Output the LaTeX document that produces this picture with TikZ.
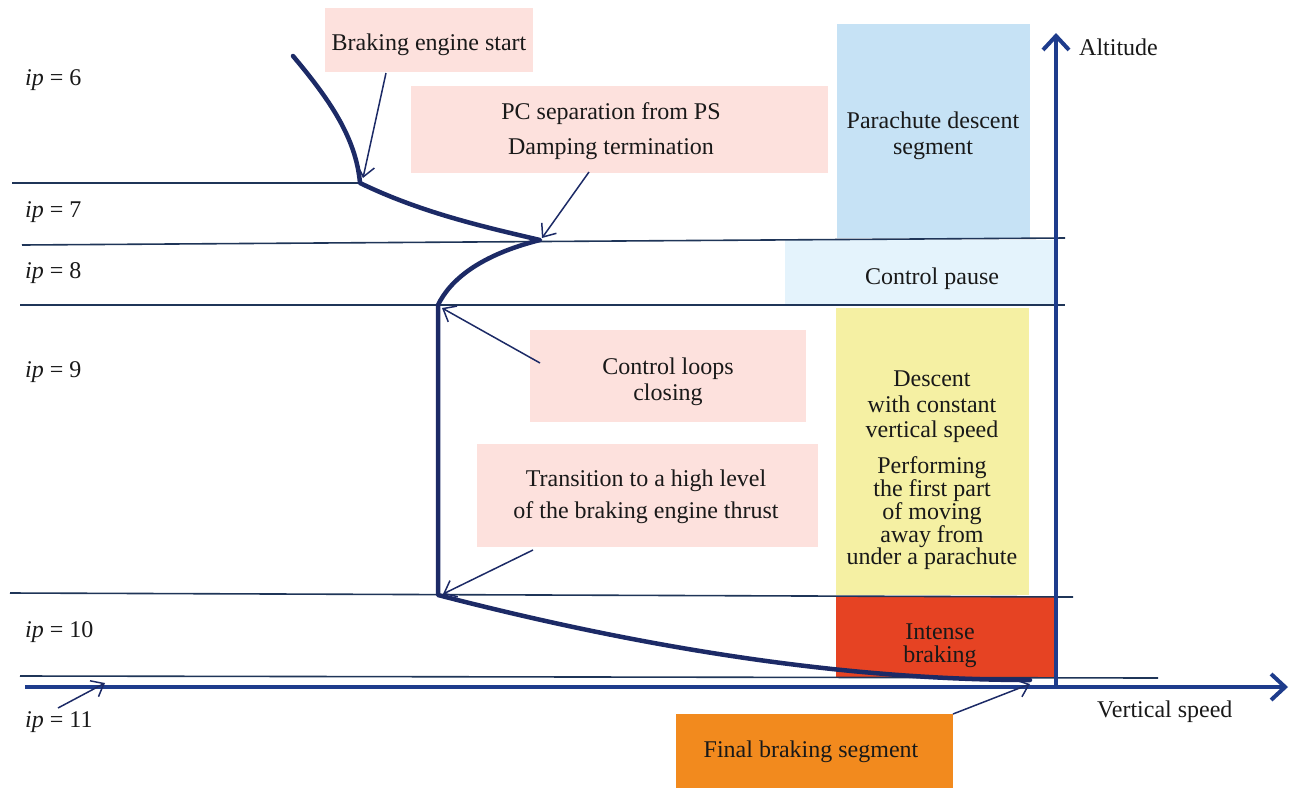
\documentclass[tikz,border=0pt]{standalone}
\usepackage{fontspec}
\setmainfont{Liberation Serif}
\usetikzlibrary{arrows.meta}
\definecolor{pinkbox}{HTML}{FDE1DD}
\definecolor{bluebox}{HTML}{C6E2F5}
\definecolor{lightbluebox}{HTML}{E4F3FC}
\definecolor{yellowbox}{HTML}{F5F0A3}
\definecolor{redbox}{HTML}{E64323}
\definecolor{orangebox}{HTML}{F28A1E}
\definecolor{navy}{HTML}{1C2A66}
\definecolor{axisblue}{HTML}{1E3C8C}
\definecolor{levelline}{HTML}{1F3558}
\tikzset{
  txt/.style={font=\fontsize{24}{26}\selectfont, text=black!90, inner sep=0pt, align=center},
  box/.style={rectangle, anchor=north west, inner sep=0pt},
  level/.style={draw=levelline, line width=1.6pt},
  traj/.style={draw=navy, line width=4.5pt, line join=round, line cap=round},
  axis/.style={draw=axisblue, line width=4.5pt, -{Straight Barb[length=14pt,width=26pt,line width=4pt]}},
  pointer/.style={draw=navy, line width=1.5pt, -{Straight Barb[length=11pt,width=18pt,line width=1.5pt]}},
  iplab/.style={txt, anchor=west},
}
\begin{document}
\begin{tikzpicture}[x=1pt,y=-1pt]
\useasboundingbox (0,0) rectangle (1291,788);

% coloured regions
\node[box, fill=bluebox, minimum width=193pt, minimum height=214pt] (para) at (837,24) {};
\node[box, fill=lightbluebox, minimum width=273pt, minimum height=64pt] (pause) at (785,240) {};
\node[box, fill=yellowbox, minimum width=193pt, minimum height=287pt] (yellow) at (836,308) {};
\node[box, fill=redbox, minimum width=220pt, minimum height=82pt] (intense) at (836,596) {};
\node[box, fill=orangebox, minimum width=277pt, minimum height=74pt] (final) at (676,714) {};

\node[txt] (paratext) at (933,136) {Parachute descent\\segment};
\node[txt] (pausetext) at (932,279) {Control pause};
\node[txt, font=\fontsize{24}{25.5}\selectfont] (descent) at (932,407) {Descent\\with constant\\vertical speed};
\node[txt, font=\fontsize{24}{22}\selectfont] (perform) at (932,513) {Performing\\the first part\\of moving\\away from\\under a parachute};
\node[txt] (intensetext) at (940,646) {Intense\\[-3pt]braking};
\node[txt] (finaltext) at (811,752) {Final braking segment};

% pink annotation boxes
\node[box, fill=pinkbox, minimum width=208pt, minimum height=64pt] (bstart) at (325,8) {};
\node[box, fill=pinkbox, minimum width=417pt, minimum height=87pt] (pcsep) at (411,86) {};
\node[box, fill=pinkbox, minimum width=276pt, minimum height=92pt] (loops) at (530,330) {};
\node[box, fill=pinkbox, minimum width=341pt, minimum height=103pt] (trans) at (477,444) {};

\node[txt] (bstarttext) at (429,45) {Braking engine start};
\node[txt] (pcseptext) at (611,131) {PC separation from PS\\[9pt]Damping termination};
\node[txt] (loopstext) at (668,382) {Control loops\\closing};
\node[txt] (transtext) at (646,497) {Transition to a high level\\[6pt]of the braking engine thrust};

% level lines
\coordinate (l6a) at (12,183);
\coordinate (l7a) at (22,245);  \coordinate (l7b) at (1065,238);
\coordinate (l8a) at (20,305);  \coordinate (l8b) at (1065,305);
\coordinate (l9a) at (10,593);  \coordinate (l9b) at (1073,597);
\coordinate (l10a) at (20,676); \coordinate (l10b) at (1158,678);

% trajectory points
\coordinate (p0) at (293,56);
\coordinate (p1) at (360,183);
\coordinate (p2) at (540,240);
\coordinate (p3) at (438,305);
\coordinate (p4) at (438,595);
\coordinate (p5) at (1030,680);

\draw[level] (l6a) -- (p1);
\draw[level] (l7a) -- (l7b);
\draw[level] (l8a) -- (l8b);
\draw[level] (l9a) -- (l9b);
\draw[level] (l10a) -- (l10b);

\draw[traj] (p0) .. controls (330,100) and (356,138) .. (p1)
  .. controls (420,212) and (480,226) .. (p2)
  .. controls (480,255) and (450,280) .. (p3)
  -- (p4)
  .. controls (650,650) and (850,680) .. (p5);

% axes
\coordinate (origin) at (1056,687);
\coordinate (hstart) at (25,687);
\coordinate (hend) at (1288,687);
\coordinate (vend) at (1056,33);
\draw[axis] (hstart) -- (hend);
\draw[axis] (origin) -- (vend);
\node[txt, anchor=west] (alt) at (1079,47) {Altitude};
\node[txt, anchor=west] (vs) at (1097,712) {Vertical speed};

% level labels
\node[iplab] (ip6) at (25,80.5) {\textit{ip} = 6};
\node[iplab] (ip7) at (25,212.5) {\textit{ip} = 7};
\node[iplab] (ip8) at (25,273.5) {\textit{ip} = 8};
\node[iplab] (ip9) at (25,372.5) {\textit{ip} = 9};
\node[iplab] (ip10) at (25,632.5) {\textit{ip} = 10};
\node[iplab] (ip11) at (25,722.5) {\textit{ip} = 11};

% pointers
\coordinate (a1s) at (386,73);   \coordinate (a1e) at (363,178);
\coordinate (a2s) at (589,172);  \coordinate (a2e) at (542,238);
\coordinate (a3s) at (540,363);  \coordinate (a3e) at (442,308);
\coordinate (a4s) at (533,550);  \coordinate (a4e) at (443,594);
\coordinate (a5s) at (58,708);   \coordinate (a5e) at (105,683);
\coordinate (a6s) at (953,714);  \coordinate (a6e) at (1030,684);
\draw[pointer] (a1s) -- (a1e);
\draw[pointer] (a2s) -- (a2e);
\draw[pointer] (a3s) -- (a3e);
\draw[pointer] (a4s) -- (a4e);
\draw[pointer] (a5s) -- (a5e);
\draw[pointer] (a6s) -- (a6e);
\end{tikzpicture}
\end{document}
